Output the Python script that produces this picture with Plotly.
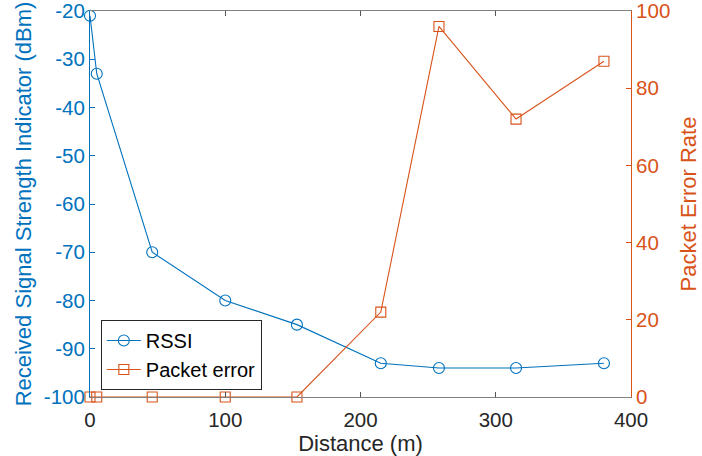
import plotly.graph_objects as go

# Measurement distances (m)
distance = [0, 5, 46, 100, 153, 215, 258, 315, 380]
# Received signal strength (dBm)
rssi = [-21, -33, -70, -80, -85, -93, -94, -94, -93]
# Packet error rate (%)
packet_error = [0, 0, 0, 0, 0, 22, 96, 72, 87]

x_ticks = [0, 100, 200, 300, 400]
rssi_ticks = [-100, -90, -80, -70, -60, -50, -40, -30, -20]
rssi_tick_text = ["-100", "-90", "-80", "-70", "-60", "-50", "-40", "-30", "-20"]
per_ticks = [0, 20, 40, 60, 80, 100]

BLUE = "#0072BD"
ORANGE = "#D95319"
DARK = "#262626"
FONT = "Liberation Sans, Arial, Helvetica, sans-serif"
TICK_FS = 20.5
TITLE_FS = 22
LEGEND_FS = 20

fig = go.Figure()
fig.add_trace(go.Scatter(
    x=distance, y=rssi, name="RSSI", mode="lines+markers",
    line=dict(color=BLUE, width=1.1),
    marker=dict(symbol="circle-open", size=11, color=BLUE, line=dict(width=1.1)),
    yaxis="y", cliponaxis=False,
))
fig.add_trace(go.Scatter(
    x=distance, y=packet_error, name="Packet error", mode="lines+markers",
    line=dict(color=ORANGE, width=1.1),
    marker=dict(symbol="square-open", size=10, color=ORANGE, line=dict(width=1.1)),
    yaxis="y2", cliponaxis=False,
))

fig.update_layout(
    width=702, height=456,
    margin=dict(l=90, r=71, t=11, b=59),
    paper_bgcolor="white", plot_bgcolor="white",
    font=dict(family=FONT, size=TICK_FS, color=DARK),
    showlegend=True,
    legend=dict(
        x=0.02, y=0.018, xanchor="left", yanchor="bottom",
        bgcolor="white", bordercolor="#262626", borderwidth=1,
        font=dict(size=LEGEND_FS, color="black"),
        tracegroupgap=0, itemwidth=34,
    ),
    xaxis=dict(
        range=[0, 400], tickvals=x_ticks, ticks="inside", ticklen=5,
        tickcolor="#555555", showline=True, linecolor="#7f7f7f", linewidth=1,
        mirror="ticks", showgrid=False, zeroline=False, automargin=False,
        tickfont=dict(size=TICK_FS, color=DARK), ticklabeloverflow="allow",
        ticklabelstandoff=4,
        title=dict(text="Distance (m)", font=dict(size=TITLE_FS, color=DARK), standoff=0),
    ),
    yaxis=dict(
        range=[-100, -20], tickvals=rssi_ticks, ticktext=rssi_tick_text,
        ticks="inside", ticklen=5, automargin=False,
        tickcolor=BLUE, showline=True, linecolor=BLUE, linewidth=1,
        showgrid=False, zeroline=False,
        tickfont=dict(size=TICK_FS, color=BLUE), ticklabeloverflow="allow",
        title=dict(text="Received Signal Strength Indicator (dBm)",
                   font=dict(size=TITLE_FS, color=BLUE), standoff=6),
    ),
    yaxis2=dict(
        range=[0, 100], tickvals=per_ticks, ticks="inside", ticklen=5,
        tickcolor=ORANGE, showline=True, linecolor=ORANGE, linewidth=1,
        overlaying="y", side="right", anchor="x", automargin=False,
        showgrid=False, zeroline=False,
        tickfont=dict(size=TICK_FS, color=ORANGE), ticklabeloverflow="allow",
        title=dict(text="Packet Error Rate", font=dict(size=TITLE_FS, color=ORANGE),
                   standoff=11),
    ),
)

fig.write_html("out.html")
